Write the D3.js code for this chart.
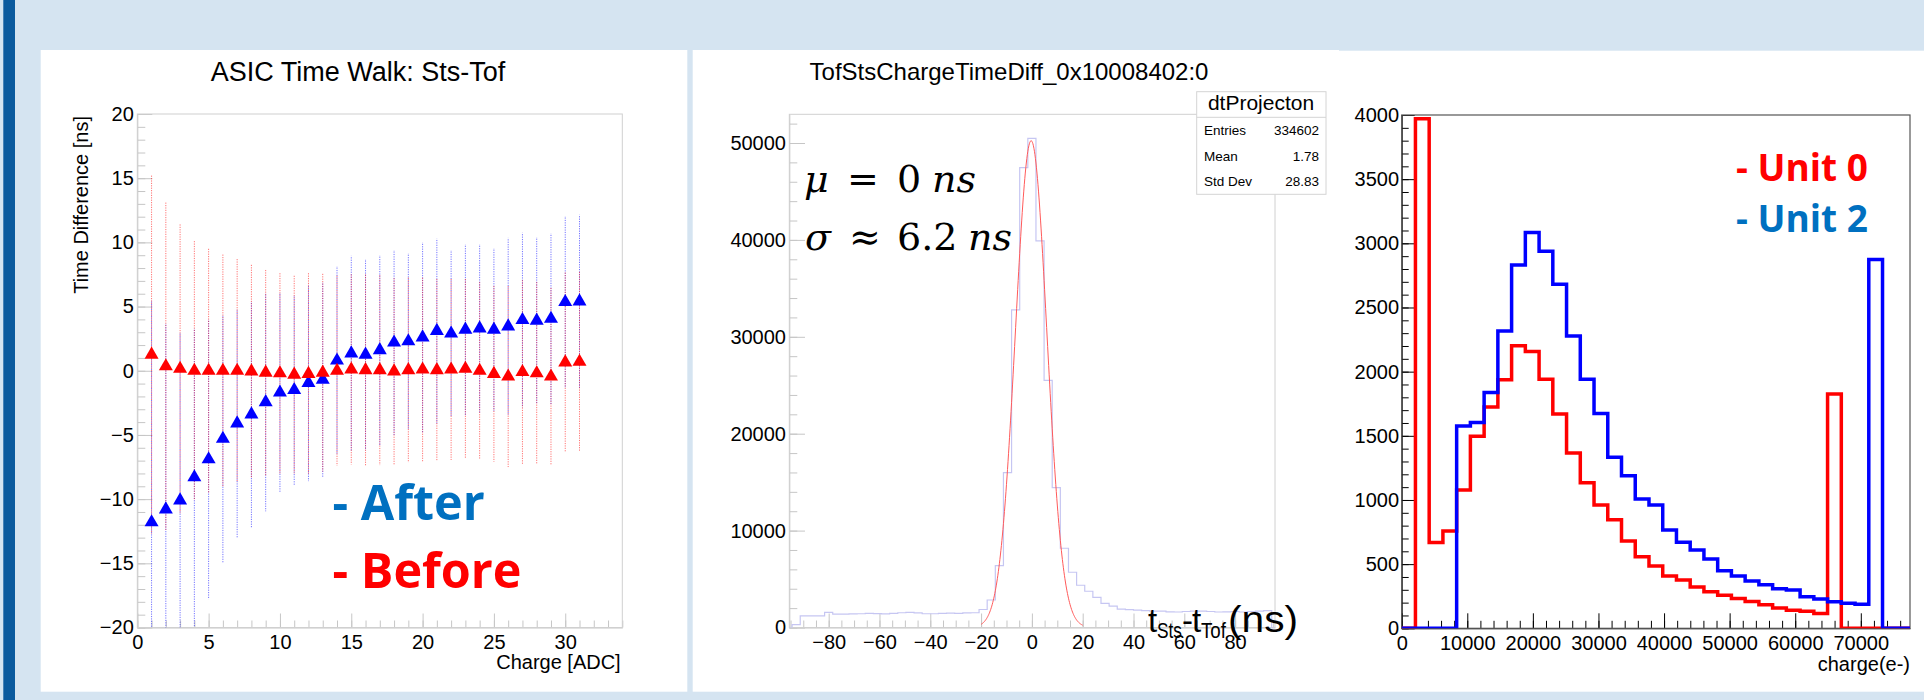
<!DOCTYPE html>
<html>
<head>
<meta charset="utf-8">
<script src="https://cdn.jsdelivr.net/npm/d3@7"></script>
<style>
  body { margin: 0; background: #d5e4f1; }
  svg { display: block; font-family: "Liberation Sans", Arial, sans-serif; }
</style>
</head>
<body>
<svg id="slide" width="1924" height="700"></svg>
<script>
// ---------- panel 1 : ASIC time walk (Sts - Tof) ----------
const adcCharge = [1, 2, 3, 4, 5, 6, 7, 8, 9, 10, 11, 12, 13, 14, 15, 16, 17, 18, 19, 20,
  21, 22, 23, 24, 25, 26, 27, 28, 29, 30, 31];
const afterMean = [-11.8, -10.8, -10.1, -8.3, -6.9, -5.3, -4.1, -3.4, -2.45, -1.7, -1.5, -0.95,
  -0.7, 0.8, 1.35, 1.25, 1.6, 2.2, 2.3, 2.6, 3.1, 2.9, 3.2, 3.3, 3.2, 3.45, 3.95, 3.9, 4.05, 5.35, 5.4];
const afterErr = [17.3, 14.5, 13.1, 11.6, 10.9, 9.65, 8.9, 8.8, 8.5, 7.8, 7.4, 7.65, 7.6, 7.35,
  7.6, 7.45, 7.4, 7.2, 6.85, 7.4, 7.2, 6.5, 6.65, 6.55, 6.35, 6.9, 6.8, 6.5, 6.65, 6.7, 6.75];
const beforeMean = [1.25, 0.35, 0.15, 0, 0, 0, 0, -0.05, -0.15, -0.2, -0.3, -0.25, -0.15, 0,
  0.1, 0.05, 0.05, -0.05, 0.05, 0.1, 0.05, 0.1, 0.15, 0, -0.25, -0.45, -0.1, -0.2, -0.45, 0.65, 0.7];
const beforeErr = [13.95, 12.75, 11.25, 10.1, 9.5, 9.05, 8.7, 8.3, 8.0, 7.8, 7.7, 7.85, 7.7, 7.4,
  7.4, 7.45, 7.4, 7.25, 7.2, 7.15, 7.1, 7.05, 7.0, 6.9, 6.85, 7.05, 7.15, 7.1, 6.9, 7.0, 7.0];

// ---------- panel 2 : time difference projection ----------
const dtBinWidth = 3.2;
const dtFirstCenter = -96;
const dtCounts = [0, 300, 1190, 1190, 1200, 1560, 1380, 1380, 1400, 1420, 1450, 1430, 1400,
  1450, 1520, 1560, 1500, 1420, 1420, 1460, 1480, 1450, 1500, 1520, 1860, 2840, 6380, 15980,
  32770, 47450, 50480, 39890, 25500, 14440, 8180, 5700, 4360, 3740, 3100, 2500, 2200, 1900,
  1850, 1800, 1750, 1700, 1700, 1620, 1600, 1650, 1700, 1680, 1650, 1600, 1620, 1650, 1600,
  1650, 1680, 1750, 0];
const gausFit = [50240, -0.3, 6.2];        // constant, mean, sigma
const gausRange = [-20, 20];
const statsRows = [["Entries", "334602"], ["Mean", "1.78"], ["Std Dev", "28.83"]];

// ---------- panel 3 : charge spectra ----------
const chargeMax = 77500;
const unit0Counts = [0, 3970, 668, 758, 1078, 1496, 1725, 1937, 2202, 2157, 1941, 1670, 1367,
  1134, 960, 845, 680, 558, 485, 407, 376, 322, 284, 258, 232, 208, 184, 159, 141, 132, 116,
  1826, 0, 0, 0, 0, 0];
const unit2Counts = [0, 0, 0, 0, 1576, 1603, 1837, 2317, 2831, 3085, 2939, 2682, 2278, 1941,
  1673, 1332, 1189, 1008, 961, 766, 670, 610, 540, 449, 408, 369, 340, 309, 298, 246, 228, 207,
  195, 187, 2873, 0, 0];

const svg = d3.select("#slide");
const defs = svg.append("defs");

// slide background
svg.append("rect").attr("width", 1924).attr("height", 700).attr("fill", "#d5e4f1");
svg.append("rect").attr("x", 3.3).attr("y", 0).attr("width", 11.7).attr("height", 700)
  .attr("fill", "#0b5a9e");
svg.append("rect").attr("x", 40.7).attr("y", 50).attr("width", 646.6).attr("height", 641.7).attr("fill", "#fff");
svg.append("rect").attr("x", 692.7).attr("y", 50).attr("width", 646.3).attr("height", 641.7).attr("fill", "#fff");
svg.append("rect").attr("x", 1339).attr("y", 50.7).attr("width", 585).attr("height", 641).attr("fill", "#fff");

// draws ROOT style axes (ticks inside the frame)
function rootAxes(g, x, y, o) {
  const [x0, x1] = x.range(), [y0, y1] = y.range();
  const style = (sel) => {
    sel.attr("color", o.tickColor);
    sel.selectAll("text").attr("fill", "#000").style("font-size", "20px");
  };
  g.append("g").attr("transform", `translate(0,${y0})`)
    .call(d3.axisBottom(x).tickValues(o.xMinor).tickSize(-o.xMinLen).tickFormat(""))
    .call((s) => s.select(".domain").remove()).call(style);
  g.append("g").attr("transform", `translate(${x0},0)`)
    .call(d3.axisLeft(y).tickValues(o.yMinor).tickSize(-o.yMinLen).tickFormat(""))
    .call((s) => s.select(".domain").remove()).call(style);
  g.append("g").attr("transform", `translate(0,${y0})`)
    .call(d3.axisBottom(x).tickValues(o.xMajor).tickSizeInner(-o.xMajLen).tickSizeOuter(0)
      .tickPadding(o.xPad).tickFormat(o.xFmt || d3.format("")))
    .call(style);
  g.append("g").attr("transform", `translate(${x0},0)`)
    .call(d3.axisLeft(y).tickValues(o.yMajor).tickSizeInner(-o.yMajLen).tickSizeOuter(0)
      .tickPadding(o.yPad).tickFormat(o.yFmt || d3.format("")))
    .call(style);
  g.append("rect").attr("x", x0).attr("y", y1).attr("width", x1 - x0).attr("height", y0 - y1)
    .attr("fill", "none").attr("stroke", o.frameColor).attr("stroke-width", o.frameWidth || 1);
}

function clipFor(id, x, y) {
  defs.append("clipPath").attr("id", id).append("rect")
    .attr("x", x.range()[0]).attr("y", y.range()[1])
    .attr("width", x.range()[1] - x.range()[0]).attr("height", y.range()[0] - y.range()[1]);
}

function stepLine(x, y, edges, counts) {
  const pts = counts.map((c, i) => [edges[i], c]);
  pts.push([edges[counts.length], counts[counts.length - 1]]);
  return d3.line().x((d) => x(d[0])).y((d) => y(d[1])).curve(d3.curveStepAfter)(pts);
}

// =================== panel 1 ===================
{
  const x = d3.scaleLinear().domain([0, 34]).range([137.3, 622.3]);
  const y = d3.scaleLinear().domain([-20, 20]).range([627.5, 114]);
  const g = svg.append("g");
  clipFor("clip1", x, y);

  g.append("text").attr("x", 358).attr("y", 81).attr("text-anchor", "middle")
    .style("font-size", "27px").text("ASIC Time Walk: Sts-Tof");

  rootAxes(g, x, y, {
    xMajor: d3.range(0, 35, 5), xMinor: d3.range(0, 35, 1), xMajLen: 14, xMinLen: 7, xPad: 7,
    yMajor: d3.range(-20, 21, 5), yMinor: d3.range(-20, 21, 1), yMajLen: 15, yMinLen: 8, yPad: 3.5,
    tickColor: "#c6c6c6", frameColor: "#d0d0d0"
  });

  g.append("text").attr("transform", "translate(88,116) rotate(-90)").attr("text-anchor", "end")
    .style("font-size", "20px").text("Time Difference [ns]");
  g.append("text").attr("x", 620.7).attr("y", 669.3).attr("text-anchor", "end")
    .style("font-size", "20px").text("Charge [ADC]");

  const series = [
    { mean: afterMean, err: afterErr, color: "#0000ff", offset: 1 },
    { mean: beforeMean, err: beforeErr, color: "#ff0000", offset: 0 }
  ];
  const bars = g.append("g").attr("clip-path", "url(#clip1)");
  series.forEach((s) => {
    bars.selectAll(null).data(adcCharge).enter().append("line")
      .attr("x1", (d) => x(d)).attr("x2", (d) => x(d))
      .attr("y1", (d, i) => y(s.mean[i] + s.err[i]))
      .attr("y2", (d, i) => y(s.mean[i] - s.err[i]))
      .attr("stroke", s.color).attr("stroke-opacity", 0.55).attr("stroke-width", 1)
      .attr("stroke-dasharray", "1.2 1.2").attr("stroke-dashoffset", s.offset);
  });
  series.forEach((s) => {
    bars.selectAll(null).data(adcCharge).enter().append("path")
      .attr("d", d3.symbol(d3.symbolTriangle, 85))
      .attr("transform", (d, i) => `translate(${x(d)},${y(s.mean[i])})`)
      .attr("fill", s.color);
  });

  g.append("text").attr("x", 332.6).attr("y", 520).attr("fill", "#0070c0")
    .style("font-family", "'Open Sans', sans-serif").style("font-weight", 700)
    .style("font-size", "48.5px").text("- After");
  g.append("text").attr("x", 332.6).attr("y", 588).attr("fill", "#ff0000")
    .style("font-family", "'Open Sans', sans-serif").style("font-weight", 700)
    .style("font-size", "48.5px").text("- Before");
}

// =================== panel 2 ===================
{
  const x = d3.scaleLinear().domain([-95.5, 95.7]).range([789.3, 1275]);
  const y = d3.scaleLinear().domain([0, 52962]).range([627.5, 114.3]);
  const g = svg.append("g");
  clipFor("clip2", x, y);

  g.append("text").attr("x", 1009).attr("y", 79.5).attr("text-anchor", "middle")
    .style("font-size", "24px").text("TofStsChargeTimeDiff_0x10008402:0");

  rootAxes(g, x, y, {
    xMajor: d3.range(-80, 81, 20), xMinor: d3.range(-95, 96, 5), xMajLen: 14, xMinLen: 7, xPad: 7.5,
    yMajor: d3.range(0, 50001, 10000), yMinor: d3.range(0, 52001, 2000), yMajLen: 15.7, yMinLen: 8, yPad: 3.3,
    tickColor: "#c6c6c6", frameColor: "#d0d0d0"
  });

  const edges = dtCounts.map((c, i) => dtFirstCenter - dtBinWidth / 2 + i * dtBinWidth);
  edges.push(dtFirstCenter - dtBinWidth / 2 + dtCounts.length * dtBinWidth);
  const plot = g.append("g").attr("clip-path", "url(#clip2)");
  plot.append("path").attr("d", stepLine(x, y, edges, dtCounts))
    .attr("fill", "none").attr("stroke", "#c6c6f2").attr("stroke-width", 1.2);

  const [amp, mu, sigma] = gausFit;
  const fitPts = d3.range(gausRange[0], gausRange[1] + 0.001, 0.2)
    .map((t) => [t, amp * Math.exp(-0.5 * ((t - mu) / sigma) ** 2)]);
  plot.append("path").attr("d", d3.line().x((d) => x(d[0])).y((d) => y(d[1]))(fitPts))
    .attr("fill", "none").attr("stroke", "#ff5a5a").attr("stroke-width", 1);

  // fit annotation
  const math = g.append("g").style("font-family", "'DejaVu Serif', serif").style("font-size", "38px");
  const mathLine = (yy, parts) => parts.forEach(([xx, txt, it]) =>
    math.append("text").attr("x", xx).attr("y", yy).style("font-style", it ? "italic" : "normal").text(txt));
  mathLine(191.7, [[804, "μ", true], [847, "=", false], [897, "0", false], [932, "ns", true]]);
  mathLine(250, [[805, "σ", true], [849, "≈", false], [897, "6.2", false], [968, "ns", true]]);

  // stats box
  const box = g.append("g");
  box.append("rect").attr("x", 1196.7).attr("y", 91.7).attr("width", 129.3).attr("height", 102.6)
    .attr("fill", "#fff").attr("stroke", "#d4d4d4");
  box.append("line").attr("x1", 1196.7).attr("x2", 1326).attr("y1", 117.3).attr("y2", 117.3)
    .attr("stroke", "#d4d4d4");
  box.append("text").attr("x", 1261).attr("y", 110).attr("text-anchor", "middle")
    .style("font-size", "21px").text("dtProjecton");
  statsRows.forEach(([k, v], i) => {
    box.append("text").attr("x", 1204).attr("y", 135 + i * 25.5).style("font-size", "13.5px").text(k);
    box.append("text").attr("x", 1319).attr("y", 135 + i * 25.5).attr("text-anchor", "end")
      .style("font-size", "13.5px").text(v);
  });

  // axis title t_Sts - t_Tof (ns)
  const at = g.append("g").style("font-size", "33px");
  at.append("text").attr("x", 1148).attr("y", 632).text("t");
  at.append("text").attr("x", 1157).attr("y", 637.5).style("font-size", "22px")
    .attr("textLength", 25).attr("lengthAdjust", "spacingAndGlyphs").text("Sts");
  at.append("text").attr("x", 1182).attr("y", 632).text("-");
  at.append("text").attr("x", 1192).attr("y", 632).text("t");
  at.append("text").attr("x", 1201).attr("y", 637.5).style("font-size", "22px")
    .attr("textLength", 25).attr("lengthAdjust", "spacingAndGlyphs").text("Tof");
  at.append("text").attr("x", 1228).attr("y", 632).style("font-size", "36px")
    .attr("textLength", 70).attr("lengthAdjust", "spacingAndGlyphs").text("(ns)");
}

// =================== panel 3 ===================
{
  const x = d3.scaleLinear().domain([0, chargeMax]).range([1401.7, 1910]);
  const y = d3.scaleLinear().domain([0, 4000]).range([628.3, 115]);
  const g = svg.append("g");
  clipFor("clip3", x, y);

  rootAxes(g, x, y, {
    xMajor: d3.range(0, 70001, 10000), xMinor: d3.range(0, 77501, 2000), xMajLen: 15, xMinLen: 7.5, xPad: 7.5,
    yMajor: d3.range(0, 4001, 500), yMinor: d3.range(0, 4001, 100), yMajLen: 13, yMinLen: 7, yPad: 2.7,
    tickColor: "#000", frameColor: "#555", frameWidth: 1.2
  });

  g.append("text").attr("x", 1910).attr("y", 670.5).attr("text-anchor", "end")
    .style("font-size", "20px").text("charge(e-)");

  const bw = chargeMax / unit0Counts.length;
  const edges = unit0Counts.map((c, i) => i * bw);
  edges.push(chargeMax);
  const plot = g.append("g").attr("clip-path", "url(#clip3)");
  [[unit0Counts, "#ff0000"], [unit2Counts, "#0000ff"]].forEach(([counts, color]) => {
    plot.append("path").attr("d", stepLine(x, y, edges, counts))
      .attr("fill", "none").attr("stroke", color).attr("stroke-width", 3.5);
  });

  const lbl = g.append("g").style("font-family", "'Open Sans', sans-serif")
    .style("font-weight", 700).style("font-size", "37px");
  lbl.append("text").attr("x", 1736).attr("y", 180.8).attr("fill", "#ff0000").text("- Unit 0");
  lbl.append("text").attr("x", 1736).attr("y", 232).attr("fill", "#0070c0").text("- Unit 2");
}
</script>
</body>
</html>
